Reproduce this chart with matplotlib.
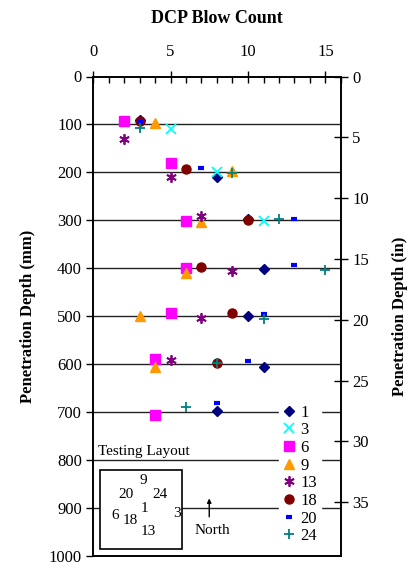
import matplotlib
matplotlib.use("Agg")
import matplotlib.pyplot as plt
from matplotlib.ticker import MultipleLocator

plt.rcParams['font.family'] = ['Liberation Serif', 'DejaVu Serif']

# ---- data: blow count (x) and penetration depth in mm (y) per test location ----
s1_x = [3, 8, 10, 11, 10, 11, 8]
s1_y = [90, 209, 297, 401, 499, 606, 698]
s3_x = [5, 8, 11]
s3_y = [109, 200, 302]
s6_x = [2, 5, 6, 6, 5, 4, 4]
s6_y = [93, 181, 301, 400, 493, 589, 707]
s9_x = [4, 9, 7, 6, 3, 4]
s9_y = [97, 198, 304, 410, 500, 607]
s13_x = [2, 5, 7, 9, 7, 5]
s13_y = [131, 209, 292, 407, 504, 592]
s18_x = [3, 6, 10, 7, 9, 8]
s18_y = [93, 193, 300, 397, 493, 599]
s20_x = [3, 7, 13, 13, 11, 10, 8]
s20_y = [95, 192, 298, 394, 496, 593, 681]
s24_x = [3, 9, 12, 15, 11, 8, 6]
s24_y = [108, 202, 297, 404, 507, 598, 691]

x_ticks = [0, 5, 10, 15]
y_ticks_mm = [0, 100, 200, 300, 400, 500, 600, 700, 800, 900, 1000]
y_ticks_in = [0, 5, 10, 15, 20, 25, 30, 35]

layout_labels = ['9', '20', '24', '1', '3', '6', '18', '13']
layout_pos = [(3.25, 843), (2.1, 873), (4.35, 873), (3.3, 901), (5.45, 913), (1.4, 916), (2.4, 927), (3.55, 950)]

fig = plt.figure(figsize=(4.08, 5.69), dpi=100)
ax = fig.add_axes([93/408, 1-555.5/569, (341-93)/408, (555.5-76.5)/569])

for yv in y_ticks_mm[1:-1]:
    ax.axhline(yv, color='#222222', lw=1.0, zorder=1)

ax.plot(s1_x, s1_y, ls='none', marker='D', color='#000080', ms=5.5, label='1', zorder=3)
ax.plot(s3_x, s3_y, ls='none', marker='x', color='#00FFFF', ms=7, mew=1.3, label='3', zorder=3)
ax.plot(s6_x, s6_y, ls='none', marker='s', color='#FF00FF', ms=6.5, label='6', zorder=3)
ax.plot(s9_x, s9_y, ls='none', marker='^', color='#FF9900', ms=7.5, label='9', zorder=3)
ax.plot(s13_x, s13_y, ls='none', marker=(6, 2, 0), color='#800080', ms=7.5, mew=1.3, label='13', zorder=3)
ax.plot(s18_x, s18_y, ls='none', marker='o', color='#800000', ms=6.5, label='18', zorder=3)
ax.plot(s20_x, s20_y, ls='none', marker='_', color='#0000FF', ms=4, mew=3, label='20', zorder=3)
ax.plot(s24_x, s24_y, ls='none', marker='+', color='#008080', ms=7.5, mew=1.3, label='24', zorder=3)

ax.set_xlim(0, 16)
ax.set_ylim(1000, 0)
ax.xaxis.tick_top()
ax.xaxis.set_label_position('top')
ax.set_xticks(x_ticks)
ax.xaxis.set_minor_locator(MultipleLocator(1))
ax.tick_params(axis='x', which='major', direction='inout', length=8, width=1, labelsize=12, pad=8)
ax.tick_params(axis='x', which='minor', direction='in', length=4, width=1)
ax.set_yticks(y_ticks_mm)
ax.tick_params(axis='y', which='major', direction='out', length=5, width=1, labelsize=12, pad=3)
ax.set_xlabel('DCP Blow Count', fontsize=13, fontweight='bold', labelpad=15)
ax.set_ylabel('Penetration Depth (mm)', fontsize=12, fontweight='bold', labelpad=9)
for sp in ax.spines.values():
    sp.set_linewidth(1.2)

ax2 = ax.twinx()
ax2.set_ylim(1000/25.4, 0)
ax2.set_yticks(y_ticks_in)
ax2.tick_params(axis='y', direction='inout', length=10, width=1, labelsize=12, pad=3)
ax2.set_ylabel('Penetration Depth (in)', fontsize=12, fontweight='bold', rotation=90, labelpad=17)
for sp in ax2.spines.values():
    sp.set_linewidth(1.2)

leg = ax.legend(loc='upper left', bbox_to_anchor=(0.75, 0.322), frameon=True, fontsize=12,
                numpoints=1, handlelength=0.8, handletextpad=0.3, labelspacing=0.1,
                borderpad=0.2, borderaxespad=0, fancybox=False)
leg.get_frame().set_edgecolor('white')
leg.get_frame().set_facecolor('white')
leg.get_frame().set_alpha(1)
leg.set_zorder(5)

# testing layout inset
ax.text(0.35, 783, 'Testing Layout', fontsize=11, ha='left', va='center', zorder=4)
ax.add_patch(plt.Rectangle((0.45, 822), 5.3, 165, facecolor='white', edgecolor='black', lw=1.2, zorder=4))
for lab, (px, py) in zip(layout_labels, layout_pos):
    ax.text(px, py, lab, fontsize=11, ha='center', va='center', zorder=5)
ax.annotate('', xy=(7.5, 875), xytext=(7.5, 925),
            arrowprops=dict(arrowstyle='-|>', color='black', lw=1, mutation_scale=6), zorder=5)
ax.text(7.7, 948, 'North', fontsize=11, ha='center', va='center', zorder=5)

fig.savefig('out.png', dpi=100)
